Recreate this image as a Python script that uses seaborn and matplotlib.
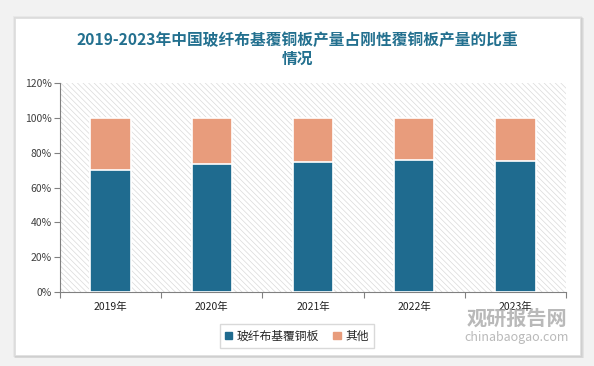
import matplotlib
matplotlib.use("Agg")
import matplotlib.pyplot as plt
import matplotlib.patches as mpatches
import seaborn as sns
import pandas as pd

years = ["2019年", "2020年", "2021年", "2022年", "2023年"]
glass_share = [70.0, 73.3, 74.5, 75.6, 75.0]
other_share = [30.0, 26.7, 25.5, 24.4, 25.0]
y_ticks = [0, 20, 40, 60, 80, 100, 120]

BLUE = "#1f6b8f"
ORANGE = "#e89c7c"
TEAL = "#23708f"

sns.set_theme(style="white")
plt.rcParams["font.family"] = ["Noto Sans CJK SC", "DejaVu Sans"]
plt.rcParams["hatch.linewidth"] = 0.5

df = pd.DataFrame({"year": years, "glass": glass_share,
                   "total": [g + o for g, o in zip(glass_share, other_share)]})

fig = plt.figure(figsize=(5.94, 3.66), dpi=100)
fig.patch.set_facecolor("#f2f2f2")

# white card with a soft shadow
for i, a in enumerate([0.04, 0.05, 0.06]):
    fig.patches.append(mpatches.Rectangle((0.022 + 0.002 * i, 0.025 - 0.002 * i),
                                          0.957, 0.93, transform=fig.transFigure,
                                          facecolor="#000000", alpha=a, edgecolor="none", zorder=-3))
fig.patches.append(mpatches.Rectangle((0.025, 0.03), 0.952, 0.922, transform=fig.transFigure,
                                      facecolor="white", edgecolor="#e0e0e0", lw=0.6, zorder=-2))

ax = fig.add_axes([60 / 594, 1 - 292 / 366, 506 / 594, 209 / 366])
ax.set_zorder(2)
ax.set_facecolor("none")
ax.add_patch(mpatches.Rectangle((0, 0), 1, 1, transform=ax.transAxes, facecolor="white",
                                edgecolor="#dadada", hatch="\\\\\\\\\\\\", lw=0, zorder=0))

sns.barplot(data=df, x="year", y="total", color=ORANGE, width=0.4, saturation=1,
            edgecolor="white", linewidth=1.2, ax=ax, zorder=3)
sns.barplot(data=df, x="year", y="glass", color=BLUE, width=0.4, saturation=1,
            edgecolor="white", linewidth=1.2, ax=ax, zorder=4)

ax.set_ylim(0, 120)
ax.set_xlim(-0.5, 4.5)
ax.set_yticks(y_ticks)
ax.set_yticklabels([f"{t}%" for t in y_ticks], fontsize=7.5, color="#404040")
ax.set_xticks(range(len(years)))
ax.set_xticklabels(years, fontsize=7.5, color="#202020")
ax.set_xticks([i - 0.5 for i in range(len(years) + 1)], minor=True)
ax.tick_params(axis="x", which="major", length=0, pad=7)
ax.tick_params(axis="x", which="minor", length=4, color="#808080", width=0.8, bottom=True)
ax.tick_params(axis="y", length=4, color="#808080", width=0.8, pad=2, left=True)
ax.set_xlabel("")
ax.set_ylabel("")
for side in ["top", "right"]:
    ax.spines[side].set_visible(False)
for side in ["left", "bottom"]:
    ax.spines[side].set_color("#808080")
    ax.spines[side].set_linewidth(0.8)

fig.text(0.5, 1 - 40 / 366, "2019-2023年中国玻纤布基覆铜板产量占刚性覆铜板产量的比重",
         ha="center", va="center", fontsize=11.3, fontweight="bold", color=TEAL)
fig.text(0.5, 1 - 59 / 366, "情况", ha="center", va="center", fontsize=11.3,
         fontweight="bold", color=TEAL)

handles = [mpatches.Patch(color=BLUE, label="玻纤布基覆铜板"),
           mpatches.Patch(color=ORANGE, label="其他")]
fig.legend(handles=handles, loc="center", bbox_to_anchor=(297 / 594, 1 - 336 / 366),
           ncol=2, fontsize=8.5, frameon=True, edgecolor="#d0d0d0", fancybox=False,
           handlelength=0.6, handleheight=0.6, handletextpad=0.4, columnspacing=1.2,
           borderpad=0.45)

# watermark
fig.text(0.87, 1 - 318 / 366, "观研报告网", ha="center", va="center", fontsize=14.5,
         fontweight="bold", color="#a8a8a8", alpha=0.8, zorder=5)
fig.text(0.87, 1 - 337 / 366, "chinabaogao.com", ha="center", va="center", fontsize=9,
         color="#a8a8a8", alpha=0.8, zorder=5)

fig.savefig("out.png", dpi=100)
